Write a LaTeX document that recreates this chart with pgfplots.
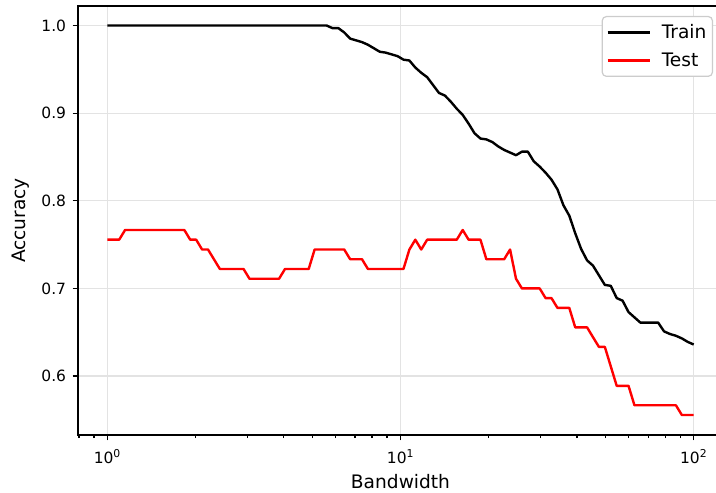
\documentclass[border=0pt]{standalone}
\usepackage{pgfplots}
\usepackage{pgfplotstable}
\pgfplotsset{compat=1.18}
\usepackage{fontspec}
\setmainfont{DejaVu Sans}

\pgfplotstableread{
x y
1.00000 1.000
1.04762 1.000
1.09750 1.000
1.14976 1.000
1.20450 1.000
1.26186 1.000
1.32194 1.000
1.38489 1.000
1.45083 1.000
1.51991 1.000
1.59228 1.000
1.66810 1.000
1.74753 1.000
1.83074 1.000
1.91791 1.000
2.00923 1.000
2.10490 1.000
2.20513 1.000
2.31013 1.000
2.42013 1.000
2.53536 1.000
2.65609 1.000
2.78256 1.000
2.91505 1.000
3.05386 1.000
3.19927 1.000
3.35160 1.000
3.51119 1.000
3.67838 1.000
3.85353 1.000
4.03702 1.000
4.22924 1.000
4.43062 1.000
4.64159 1.000
4.86260 1.000
5.09414 1.000
5.33670 1.000
5.59081 1.000
5.85702 0.997
6.13591 0.997
6.42807 0.992
6.73415 0.985
7.05480 0.983
7.39072 0.981
7.74264 0.978
8.11131 0.974
8.49753 0.970
8.90215 0.969
9.32603 0.967
9.77010 0.965
10.2353 0.961
10.7227 0.960
11.2333 0.952
11.7681 0.946
12.3285 0.941
12.9155 0.932
13.5305 0.923
14.1747 0.920
14.8497 0.913
15.5568 0.905
16.2975 0.898
17.0735 0.888
17.8865 0.877
18.7382 0.871
19.6304 0.870
20.5651 0.867
21.5443 0.862
22.5702 0.858
23.6449 0.855
24.7708 0.852
25.9502 0.856
27.1859 0.856
28.4804 0.845
29.8365 0.839
31.2572 0.832
32.7455 0.824
34.3047 0.813
35.9381 0.795
37.6494 0.783
39.4421 0.763
41.3201 0.745
43.2876 0.732
45.3488 0.726
47.5081 0.715
49.7702 0.704
52.1401 0.703
54.6228 0.689
57.2237 0.686
59.9484 0.673
62.8029 0.667
65.7933 0.661
68.9261 0.661
72.2081 0.661
75.6463 0.661
79.2483 0.651
83.0218 0.648
86.9749 0.646
91.1163 0.643
95.4548 0.639
100.000 0.636
}\traintable

\pgfplotstableread{
x y
1.00000 0.7556
1.04762 0.7556
1.09750 0.7556
1.14976 0.7667
1.20450 0.7667
1.26186 0.7667
1.32194 0.7667
1.38489 0.7667
1.45083 0.7667
1.51991 0.7667
1.59228 0.7667
1.66810 0.7667
1.74753 0.7667
1.83074 0.7667
1.91791 0.7556
2.00923 0.7556
2.10490 0.7444
2.20513 0.7444
2.31013 0.7333
2.42013 0.7222
2.53536 0.7222
2.65609 0.7222
2.78256 0.7222
2.91505 0.7222
3.05386 0.7111
3.19927 0.7111
3.35160 0.7111
3.51119 0.7111
3.67838 0.7111
3.85353 0.7111
4.03702 0.7222
4.22924 0.7222
4.43062 0.7222
4.64159 0.7222
4.86260 0.7222
5.09414 0.7444
5.33670 0.7444
5.59081 0.7444
5.85702 0.7444
6.13591 0.7444
6.42807 0.7444
6.73415 0.7333
7.05480 0.7333
7.39072 0.7333
7.74264 0.7222
8.11131 0.7222
8.49753 0.7222
8.90215 0.7222
9.32603 0.7222
9.77010 0.7222
10.2353 0.7222
10.7227 0.7444
11.2333 0.7556
11.7681 0.7444
12.3285 0.7556
12.9155 0.7556
13.5305 0.7556
14.1747 0.7556
14.8497 0.7556
15.5568 0.7556
16.2975 0.7667
17.0735 0.7556
17.8865 0.7556
18.7382 0.7556
19.6304 0.7333
20.5651 0.7333
21.5443 0.7333
22.5702 0.7333
23.6449 0.7444
24.7708 0.7111
25.9502 0.7000
27.1859 0.7000
28.4804 0.7000
29.8365 0.7000
31.2572 0.6889
32.7455 0.6889
34.3047 0.6778
35.9381 0.6778
37.6494 0.6778
39.4421 0.6556
41.3201 0.6556
43.2876 0.6556
45.3488 0.6444
47.5081 0.6333
49.7702 0.6333
52.1401 0.6111
54.6228 0.5889
57.2237 0.5889
59.9484 0.5889
62.8029 0.5667
65.7933 0.5667
68.9261 0.5667
72.2081 0.5667
75.6463 0.5667
79.2483 0.5667
83.0218 0.5667
86.9749 0.5667
91.1163 0.5556
95.4548 0.5556
100.000 0.5556
}\testtable

\begin{document}
\begin{tikzpicture}
\begin{axis}[
  scale only axis,
  width=645pt, height=429pt,
  xmode=log,
  xmin=0.79433, xmax=125.89,
  ymin=0.5328, ymax=1.0222,
  xtick={1,10,100},
  xticklabels={10\textsuperscript{0},10\textsuperscript{1},10\textsuperscript{2}},
  minor xtick={0.8,0.9,2,3,4,5,6,7,8,9,20,30,40,50,60,70,80,90},
  ytick={0.6,0.7,0.8,0.9,1.0},
  /pgf/number format/assume math mode=true,
  yticklabel style={/pgf/number format/fixed, /pgf/number format/fixed zerofill, /pgf/number format/precision=1, xshift=-3pt},
  xticklabel style={yshift=-6pt},
  tick label style={font=\fontsize{15.5}{18}\selectfont},
  label style={font=\fontsize{18.6}{22}\selectfont},
  xlabel={Bandwidth},
  ylabel={Accuracy},
  xlabel style={yshift=-4pt},
  ylabel style={yshift=5pt},
  tick align=outside,
  tick pos=left,
  major tick length=5.4pt,
  minor tick length=3.1pt,
  every tick/.style={black, line width=1.2pt},
  axis line style={line width=1.24pt},
  grid=major,
  major grid style={line width=1.2pt, color=black!11},
  legend style={at={(axis description cs:0.9845,0.9767)}, anchor=north east,
    draw=black!20, rounded corners=4pt, line width=1.2pt, fill=white,
    font=\fontsize{18.6}{22}\selectfont, inner xsep=4pt, inner ysep=6pt, row sep=9pt},
  legend cell align=left,
  legend image code/.code={\draw[#1, line width=2.6pt] (0pt,0pt) -- (42pt,0pt); \path (51pt,0pt);},
]
\addplot[black, line width=2.4pt, line join=round] table {\traintable};
\addlegendentry{Train}
\addplot[red, line width=2.4pt, line join=round] table {\testtable};
\addlegendentry{Test}
\end{axis}
\pgfresetboundingbox
\useasboundingbox (-78pt,-58pt) rectangle (638pt,435pt);
\end{tikzpicture}
\end{document}
